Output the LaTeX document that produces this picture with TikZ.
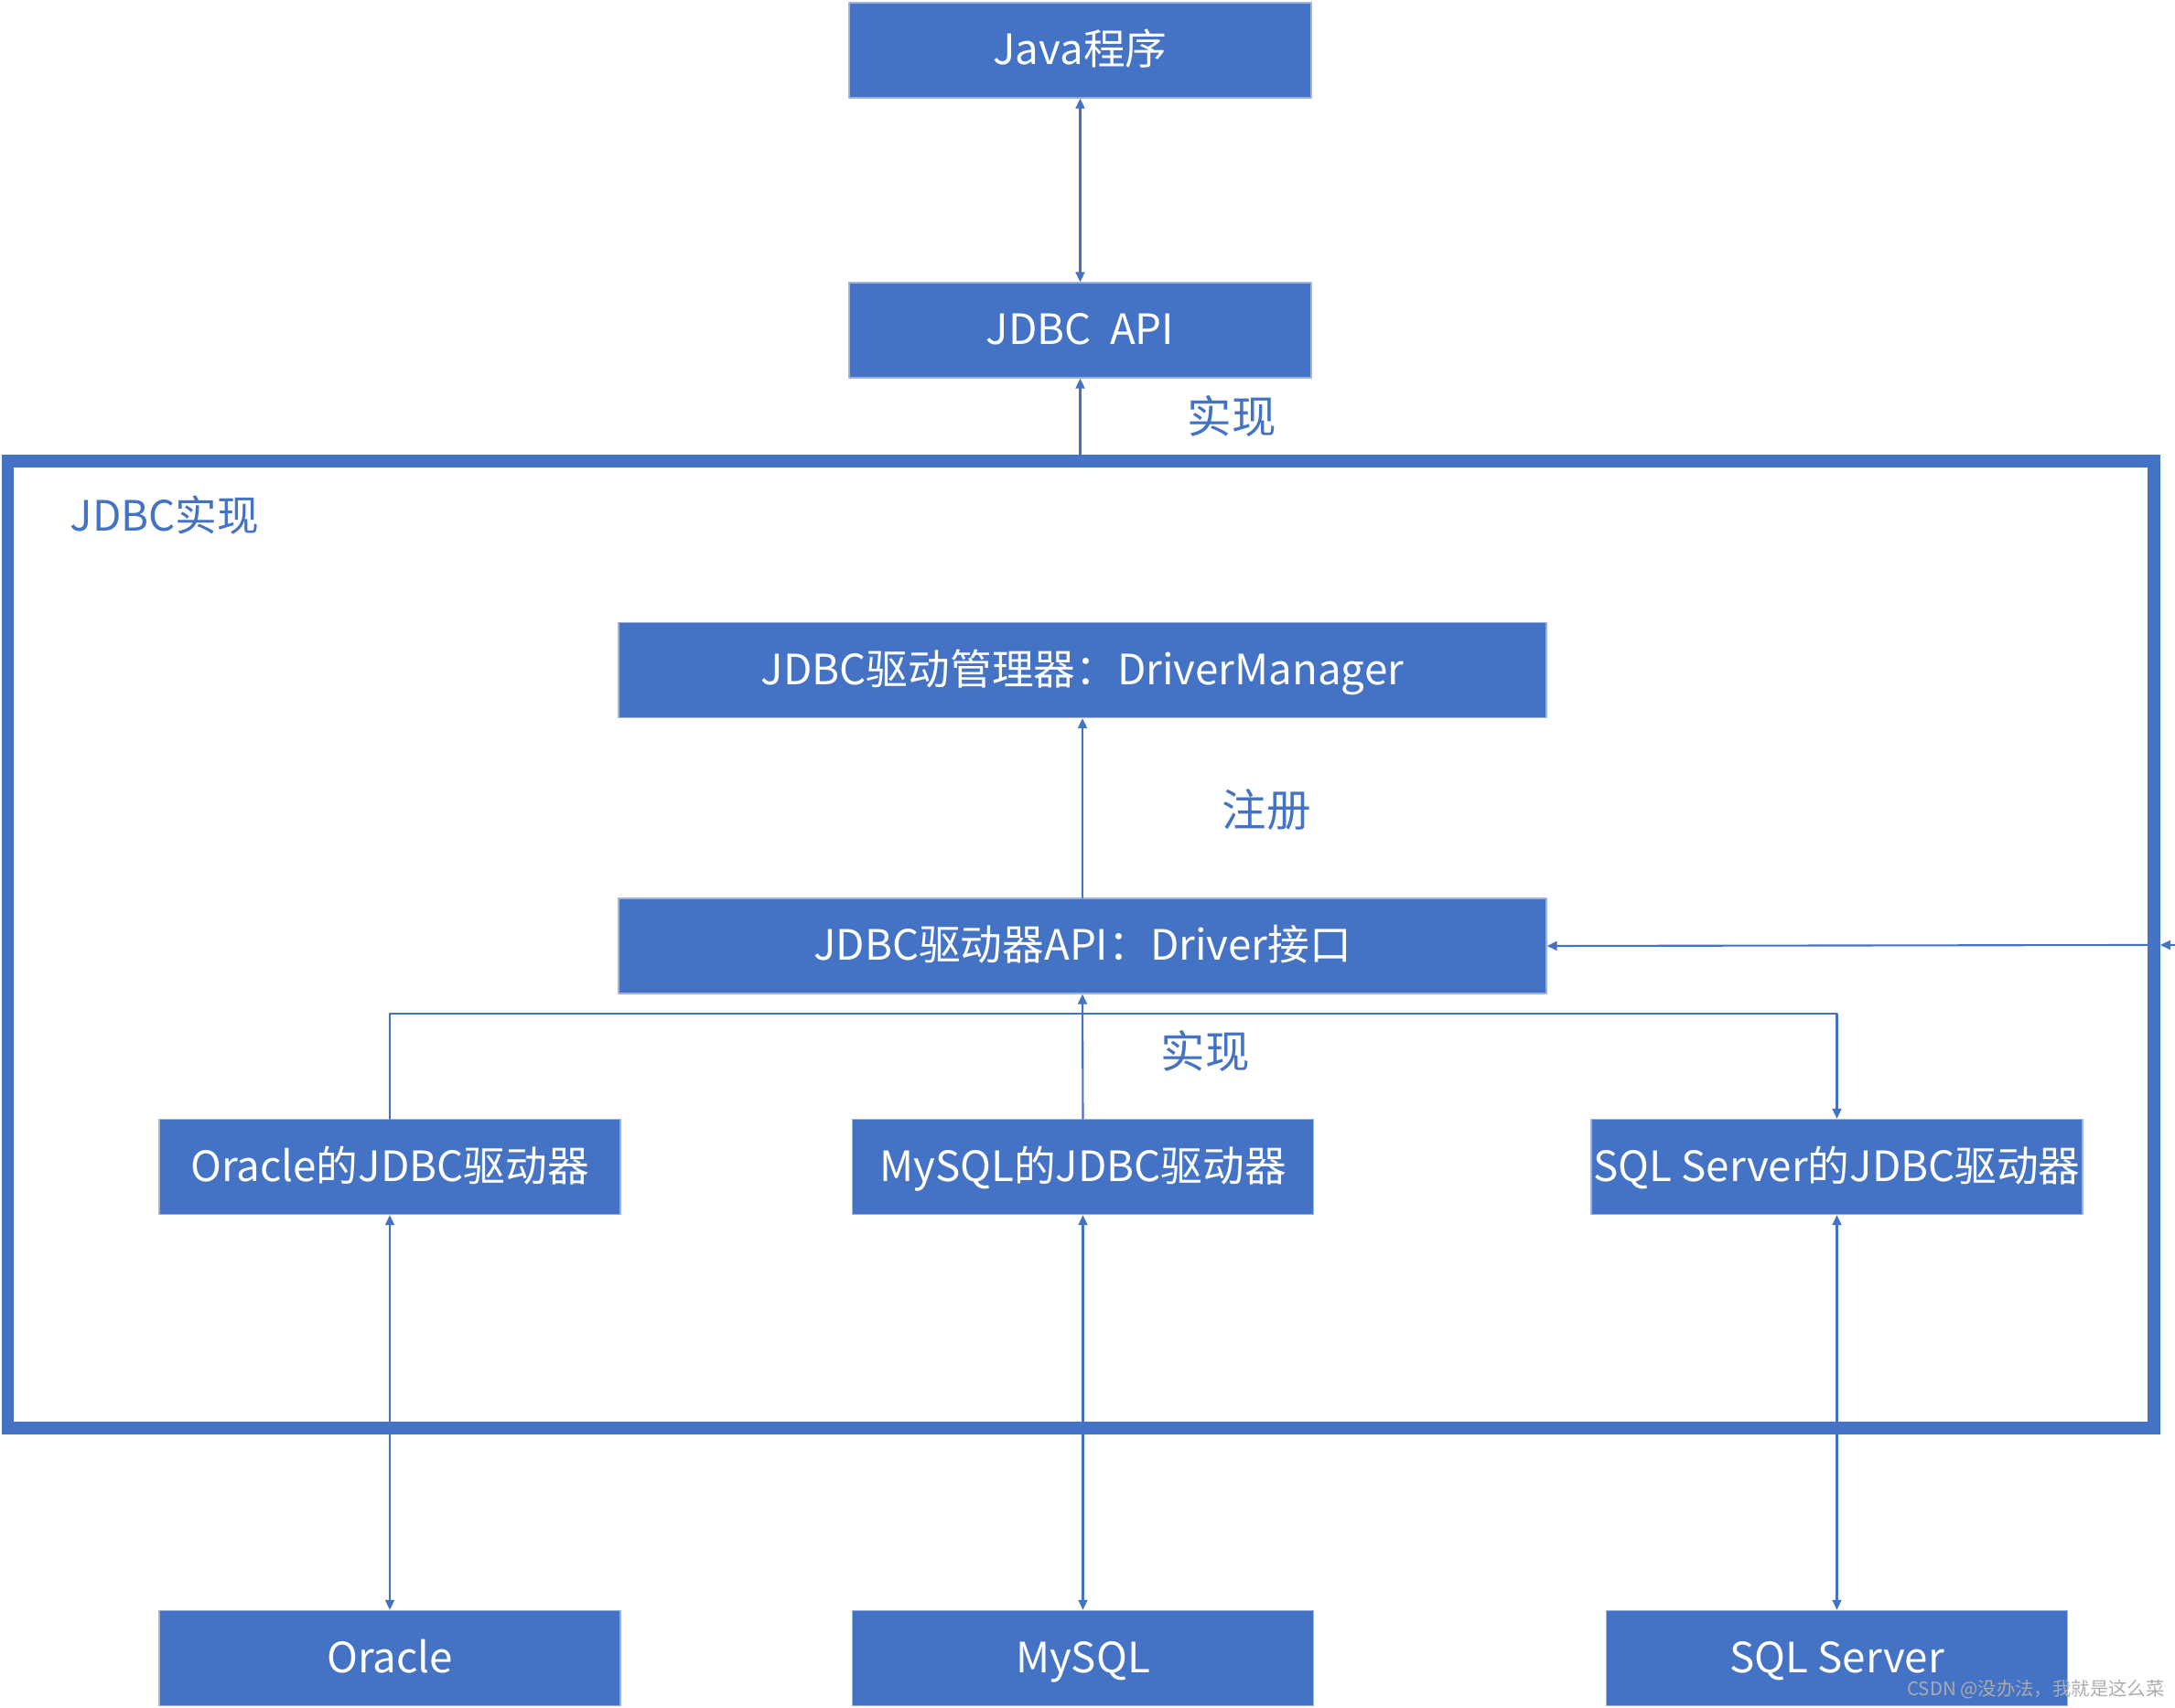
\documentclass[tikz,border=0pt]{standalone}
\usepackage{fontspec}
\setmainfont{Noto Sans CJK SC}
\usepackage{xcolor}
\usepackage{tikz}
\usetikzlibrary{arrows.meta, positioning, calc}

\definecolor{jblue}{HTML}{4472C4}
\definecolor{jedge}{HTML}{9DB3DE}

\begin{document}
\begin{tikzpicture}[>=Stealth, line cap=round, line join=round, scale=1.0,
    box/.style={fill=jblue, draw=jedge, line width=0.4pt, text=white,
        minimum height=1.04cm, inner sep=0pt, text height=1.02em, text depth=0.12em,
        font=\fontsize{13pt}{16pt}\selectfont},
    lbl/.style={text=jblue, inner sep=0pt, font=\fontsize{13.8pt}{16pt}\selectfont},
    arr/.style={draw=jblue, line width=0.6pt, -{Triangle[length=0.11cm, width=0.1cm]}},
    darr/.style={draw=jblue, line width=0.6pt,
        {Triangle[length=0.11cm, width=0.1cm]}-{Triangle[length=0.11cm, width=0.1cm]}}]
    \useasboundingbox (0,0) rectangle (23.77,18.67);

    % JDBC implementation frame
    \draw[jblue, line width=0.135cm, line cap=butt, line join=miter]
        (0.085,3.06) rectangle (23.54,13.63);
    \node[lbl, font=\fontsize{13pt}{16pt}\selectfont] (implLbl) at (1.80,13.04) {JDBC实现};

    % Top boxes
    \node[box, minimum width=5.05cm] (java) at (11.805,18.12) {Java程序};
    \node[box, minimum width=5.05cm] (api) at (11.805,15.06) {JDBC\ \ API};

    % Manager and driver interface
    \node[box, minimum width=10.14cm] (mgr) at (11.83,11.345) {JDBC驱动管理器：DriverManager};
    \node[box, minimum width=10.14cm] (drv) at (11.83,8.33) {JDBC驱动器API：Driver接口};

    % Vendor drivers
    \node[box, minimum width=5.04cm] (oraDrv) at (4.26,5.915) {Oracle的JDBC驱动器};
    \node[box, minimum width=5.04cm] (mysqlDrv) at (11.835,5.915) {MySQL的JDBC驱动器};
    \node[box, minimum width=5.37cm] (sqlDrv) at (20.075,5.915) {SQL Server的JDBC驱动器};

    % Databases
    \node[box, minimum width=5.04cm] (ora) at (4.26,0.545) {Oracle};
    \node[box, minimum width=5.04cm] (mysql) at (11.835,0.545) {MySQL};
    \node[box, minimum width=5.04cm] (sql) at (20.075,0.545) {SQL Server};

    % Labels
    \node[lbl] (implTopLbl) at (13.46,14.12) {实现};
    \node[lbl] (regLbl) at (13.84,9.82) {注册};
    \node[lbl] (implMidLbl) at (13.17,7.18) {实现};

    % Helper coordinates
    \coordinate (frameTop) at (11.805,13.63);
    \coordinate (bus) at (0,7.59);
    \coordinate (edgeR) at (23.77,8.34);
    \coordinate (frameOut) at (23.61,8.34);
    \coordinate (frameIn) at (23.47,8.34);

    % Connectors
    \draw[darr] (java.south) -- (api.north);
    \draw[arr] (frameTop) -- (api.south);
    \draw[arr] (drv.north) -- (mgr.south);
    \draw[arr] (mysqlDrv.north) -- (drv.south);
    \draw[arr] (oraDrv.north) -- (oraDrv.north |- bus) -- (sqlDrv.north |- bus) -- (sqlDrv.north);
    \draw[arr] (edgeR) -- (frameOut);
    \draw[arr] (frameIn) -- (drv.east);

    \foreach \a/\b in {oraDrv/ora, mysqlDrv/mysql, sqlDrv/sql}{
        \draw[darr] (\a.south) -- (\b.north);
    }

    % Watermark
    \node[text=gray!65, inner sep=0pt, font=\fontsize{5.8pt}{7pt}\selectfont]
        (mark) at (22.25,0.20) {CSDN @没办法，我就是这么菜};

\end{tikzpicture}
\end{document}
